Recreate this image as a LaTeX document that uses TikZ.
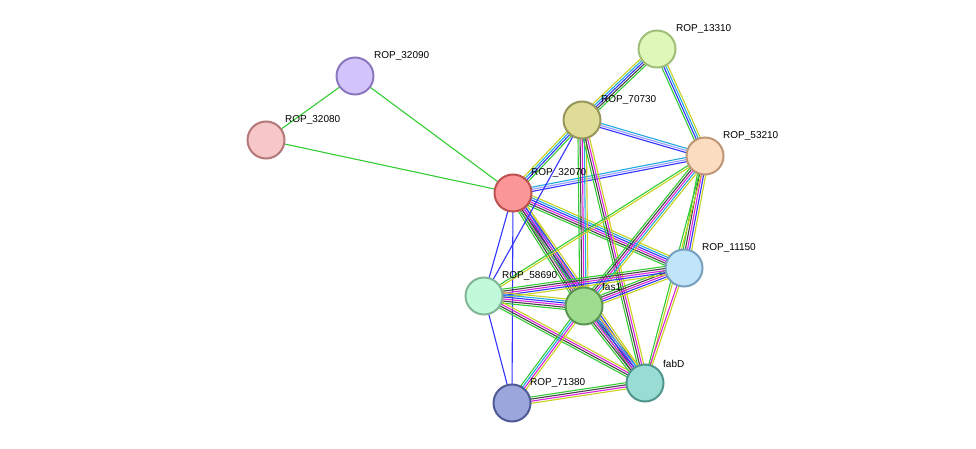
\documentclass[tikz,border=0pt]{standalone}
\usepackage{fontspec}
\setmainfont{Liberation Sans}
\usetikzlibrary{calc}
\definecolor{G}{HTML}{33CC33}\definecolor{K}{HTML}{444444}\definecolor{M}{HTML}{DD22DD}
\definecolor{B}{HTML}{3333FF}\definecolor{C}{HTML}{22AADD}\definecolor{Y}{HTML}{C8D020}
\definecolor{L}{HTML}{9999FF}
\newcommand\medge[4]{%
 \foreach \c [count=\i] in {#4}{%
  \pgfmathsetmacro\off{(\i-(#3+1)/2)*2.1}
  \draw[\c,line width=1.1pt] ($(#1.center)!\off pt!90:(#2.center)$) -- ($(#2.center)!\off pt!-90:(#1.center)$);
 }}
\tikzset{prot/.style={circle,minimum size=37pt,line width=2pt,inner sep=0pt},
 lab/.style={font=\fontsize{10}{12}\selectfont,anchor=south west,inner sep=0pt}}
\begin{document}
\begin{tikzpicture}[x=1pt,y=-1pt]
\useasboundingbox (0,0) rectangle (976,449);
\coordinate (a32090) at (355,76);
\coordinate (a32080) at (266,140);
\coordinate (a32070) at (513,193);
\coordinate (a13310) at (657,49);
\coordinate (a70730) at (582,120);
\coordinate (a53210) at (705,156);
\coordinate (a11150) at (684,268);
\coordinate (a58690) at (484,296);
\coordinate (afas1) at (584,306);
\coordinate (afabD) at (645,383);
\coordinate (a71380) at (512,403);
\medge{a32090}{a32080}{1}{G}
\medge{a32090}{a32070}{1}{G}
\medge{a32080}{a32070}{1}{G}
\medge{a32070}{a70730}{4}{G,B,C,Y}
\medge{a32070}{a53210}{3}{B,L,C}
\medge{a32070}{a58690}{1}{B}
\medge{a32070}{a71380}{1}{B}
\medge{a32070}{afas1}{6}{G,K,M,B,C,Y}
\medge{a32070}{afabD}{5}{G,K,M,B,Y}
\medge{a32070}{a11150}{6}{G,K,M,B,C,Y}
\medge{a70730}{a58690}{1}{B}
\medge{a70730}{a13310}{5}{G,K,B,C,Y}
\medge{a70730}{a53210}{3}{B,L,C}
\medge{a70730}{afas1}{5}{G,K,M,C,Y}
\medge{a70730}{afabD}{4}{G,K,M,Y}
\medge{a13310}{a53210}{4}{G,B,C,Y}
\medge{a53210}{a11150}{5}{G,K,M,B,Y}
\medge{a53210}{afas1}{5}{G,K,M,C,Y}
\medge{a53210}{afabD}{2}{G,Y}
\medge{a53210}{a58690}{2}{G,Y}
\medge{a11150}{afas1}{5}{G,K,M,B,Y}
\medge{a11150}{a58690}{5}{G,K,M,B,Y}
\medge{a11150}{afabD}{2}{M,Y}
\medge{a58690}{afas1}{6}{G,K,M,B,C,Y}
\medge{a58690}{afabD}{4}{G,K,M,Y}
\medge{a58690}{a71380}{1}{B}
\medge{afas1}{afabD}{6}{G,K,M,B,C,Y}
\medge{afas1}{a71380}{4}{G,C,M,Y}
\medge{afabD}{a71380}{4}{G,K,M,Y}
\node[prot,fill={rgb,255:red,212;green,196;blue,252},draw={rgb,255:red,140;green,120;blue,190}] (n32090) at (a32090) {};
\node[prot,fill={rgb,255:red,247;green,198;blue,198},draw={rgb,255:red,180;green,120;blue,120}] (n32080) at (a32080) {};
\node[prot,fill={rgb,255:red,250;green,150;blue,150},draw={rgb,255:red,190;green,80;blue,80}] (n32070) at (a32070) {};
\node[prot,fill={rgb,255:red,222;green,248;blue,186},draw={rgb,255:red,160;green,190;blue,120}] (n13310) at (a13310) {};
\node[prot,fill={rgb,255:red,222;green,220;blue,150},draw={rgb,255:red,150;green,150;blue,90}] (n70730) at (a70730) {};
\node[prot,fill={rgb,255:red,252;green,220;blue,192},draw={rgb,255:red,190;green,150;blue,120}] (n53210) at (a53210) {};
\node[prot,fill={rgb,255:red,192;green,228;blue,250},draw={rgb,255:red,120;green,160;blue,190}] (n11150) at (a11150) {};
\node[prot,fill={rgb,255:red,192;green,250;blue,218},draw={rgb,255:red,130;green,180;blue,150}] (n58690) at (a58690) {};
\node[prot,fill={rgb,255:red,160;green,220;blue,144},draw={rgb,255:red,90;green,150;blue,80}] (nfas1) at (afas1) {};
\node[prot,fill={rgb,255:red,152;green,220;blue,212},draw={rgb,255:red,80;green,150;blue,140}] (nfabD) at (afabD) {};
\node[prot,fill={rgb,255:red,154;green,166;blue,220},draw={rgb,255:red,80;green,90;blue,150}] (n71380) at (a71380) {};
\node[lab] at ([xshift=19pt,yshift=15pt]a32090) {ROP\_32090};
\node[lab] at ([xshift=19pt,yshift=15pt]a32080) {ROP\_32080};
\node[lab] at ([xshift=18pt,yshift=15pt]a32070) {ROP\_32070};
\node[lab] at ([xshift=19pt,yshift=15pt]a13310) {ROP\_13310};
\node[lab] at ([xshift=19pt,yshift=15pt]a70730) {ROP\_70730};
\node[lab] at ([xshift=18pt,yshift=15pt]a53210) {ROP\_53210};
\node[lab] at ([xshift=18pt,yshift=15pt]a11150) {ROP\_11150};
\node[lab] at ([xshift=18pt,yshift=15pt]a58690) {ROP\_58690};
\node[lab] at ([xshift=18pt,yshift=15pt]afas1) {fas1};
\node[lab] at ([xshift=18pt,yshift=15pt]afabD) {fabD};
\node[lab] at ([xshift=18pt,yshift=15pt]a71380) {ROP\_71380};
\end{tikzpicture}
\end{document}
